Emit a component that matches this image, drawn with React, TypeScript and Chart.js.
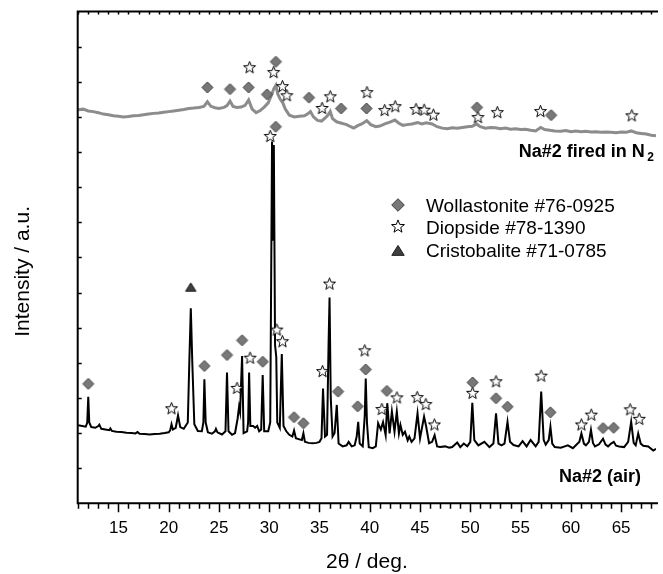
import React, { useEffect, useRef } from 'react';
import { Chart, registerables } from 'chart.js';

Chart.register(...registerables);

const FONT = '"Liberation Sans", Arial, Helvetica, sans-serif';

// x axis (2θ / deg.)
const xMin = 10.95;
const xMax = 68.47;
const xTickValues = [15, 20, 25, 30, 35, 40, 45, 50, 55, 60, 65];
// y axis (arbitrary units, offset traces)
const yMin = 0;
const yMax = 14;

// Na#2 (air) pattern
const airX = [
  11.0, 11.4, 11.75, 11.9, 12.0, 12.1, 12.3, 12.7, 13.0, 13.1, 13.3, 13.7, 14.1, 14.2, 14.35, 14.8, 15.3, 15.8,
  16.3, 16.7, 16.9, 17.1, 17.6, 18.1, 18.6, 19.1, 19.6, 20.0, 20.15, 20.28, 20.42, 20.7, 20.93, 21.15, 21.5, 21.9,
  22.05, 22.2, 22.35, 22.55, 22.9, 23.3, 23.45, 23.55, 23.68, 23.9, 24.3, 24.6, 24.7, 24.85, 25.3, 25.65, 25.8,
  25.95, 26.3, 26.6, 26.85, 27.0, 27.1, 27.3, 27.45, 27.8, 27.9, 28.0, 28.12, 28.4, 28.6, 28.8, 29.0, 29.2, 29.35,
  29.5, 29.9, 30.1, 30.28, 30.38, 30.46, 30.58, 30.7, 30.8, 31.05, 31.25, 31.42, 31.7, 32.0, 32.3, 32.47, 32.65,
  33.0, 33.25, 33.4, 33.55, 33.9, 34.3, 34.7, 35.0, 35.2, 35.35, 35.55, 35.75, 35.9, 36.0, 36.12, 36.3, 36.5,
  36.72, 36.9, 37.3, 37.7, 37.9, 38.2, 38.5, 38.7, 38.85, 39.0, 39.3, 39.5, 39.6, 39.72, 39.9, 40.3, 40.6, 40.83,
  41.1, 41.32, 41.58, 41.74, 41.97, 42.2, 42.46, 42.69, 42.9, 43.05, 43.28, 43.5, 43.77, 43.93, 44.16, 44.45,
  44.75, 45.0, 45.4, 45.6, 45.9, 46.2, 46.45, 46.7, 47.0, 47.5, 47.9, 48.2, 48.7, 49.0, 49.35, 49.7, 50.0, 50.2,
  50.4, 50.8, 51.4, 51.9, 52.3, 52.56, 52.8, 53.1, 53.4, 53.7, 53.95, 54.3, 54.8, 55.2, 55.6, 56.0, 56.5, 56.8,
  57.05, 57.3, 57.5, 57.8, 57.97, 58.15, 58.4, 59.0, 59.4, 59.7, 60.2, 60.6, 60.85, 61.05, 61.3, 61.5, 61.8, 62.0,
  62.2, 62.4, 62.8, 63.2, 63.45, 63.7, 64.0, 64.27, 64.5, 64.8, 65.3, 65.7, 66.0, 66.25, 66.45, 66.7, 66.95, 67.2,
  67.7, 68.2, 68.47,
];
const airY = [
  2.22, 2.2, 2.18, 2.3, 3.03, 2.3, 2.17, 2.15, 2.2, 2.24, 2.12, 2.1, 2.08, 2.13, 2.06, 2.04, 2.03, 2.01,
  2.0, 1.99, 2.03, 1.98, 1.97, 1.96, 1.97, 1.98, 2.0, 2.02, 2.08, 2.25, 2.1, 2.15, 2.5, 2.17, 2.12, 2.3,
  4.0, 5.55, 4.0, 2.25, 2.06, 2.05, 2.3, 3.53, 2.3, 2.02, 1.98, 2.05, 2.12, 2.02, 1.96, 2.05, 3.72,
  2.05, 1.95, 2.0, 2.4, 2.75, 2.6, 4.19, 2.0, 2.05, 2.3, 3.72, 2.2, 2.2, 2.15, 2.2, 2.05, 2.1, 3.65,
  2.05, 2.05, 2.3, 10.3, 7.5, 10.2, 4.5, 4.17, 2.3, 2.15, 4.25, 2.2, 2.05, 1.95, 1.9, 2.07, 1.85,
  1.82, 1.8, 1.99, 1.75, 1.72, 1.71, 1.72, 1.75, 1.85, 3.27, 1.9, 1.95, 4.5, 5.86, 3.0, 1.9, 2.0,
  2.8, 1.7, 1.62, 1.65, 1.75, 1.62, 1.65, 1.9, 2.32, 1.7, 1.62, 2.5, 3.55, 2.3, 1.6, 1.57, 1.62, 2.28,
  2.1, 2.31, 1.94, 2.85, 1.99, 2.61, 2.04, 2.61, 1.99, 2.23, 1.95, 2.04, 1.79, 1.9, 1.75, 1.85,
  2.56, 1.85, 2.47, 2.2, 1.71, 1.75, 1.94, 1.62, 1.6, 1.62, 1.58, 1.6, 1.73, 1.6, 1.7, 1.62, 1.75, 2.86,
  1.8, 1.65, 1.75, 1.6, 1.7, 2.56, 1.7, 1.65, 1.7, 2.32, 1.75, 1.66, 1.62, 1.77, 1.62, 1.8, 1.62, 1.75,
  3.18, 1.8, 1.67, 1.8, 2.18, 1.7, 1.6, 1.58, 1.62, 1.65, 1.57, 1.68, 1.75, 1.99, 1.7, 1.65, 1.75, 2.09,
  1.72, 1.62, 1.68, 1.84, 1.67, 1.62, 1.7, 1.75, 1.64, 1.62, 1.6, 1.75, 2.32, 1.72, 1.65, 1.99, 1.7, 1.64,
  1.62, 1.5, 1.55,
];

// Na#2 fired in N2 pattern
const n2X = [
  11.0, 11.5, 12.0, 12.5, 13.0, 13.5, 14.0, 14.5, 15.0, 15.5, 16.0, 16.5, 17.0, 17.5, 18.0, 18.5, 19.0, 19.5,
  20.0, 20.5, 21.0, 21.5, 22.0, 22.5, 23.0, 23.5, 23.85, 24.2, 24.6, 25.0, 25.5, 25.8, 26.1, 26.4, 26.8, 27.2,
  27.6, 27.95, 28.3, 28.7, 29.1, 29.5, 29.9, 30.2, 30.45, 30.66, 30.85, 31.1, 31.35, 31.6, 32.0, 32.5, 33.0,
  33.5, 33.8, 34.1, 34.4, 34.8, 35.2, 35.6, 35.85, 36.07, 36.3, 36.7, 37.2, 37.7, 38.1, 38.4, 38.8, 39.2, 39.7,
  40.1, 40.6, 41.0, 41.5, 42.0, 42.5, 42.9, 43.3, 43.7, 44.2, 44.75, 45.2, 45.6, 46.2, 46.7, 47.2, 47.7, 48.2,
  48.7, 49.2, 49.7, 50.2, 50.6, 51.0, 51.5, 52.0, 52.5, 53.0, 53.5, 54.0, 54.5, 55.0, 55.5, 56.0, 56.5, 57.0,
  57.4, 57.9, 58.4, 59.0, 59.5, 60.0, 60.5, 61.0, 61.5, 62.0, 62.5, 63.0, 63.5, 64.0, 64.5, 65.0, 65.5, 66.0,
  66.5, 67.0, 67.5, 68.0, 68.47,
];
const n2Y = [
  11.2, 11.22, 11.17, 11.15, 11.12, 11.08, 11.06, 11.03, 11.02, 11.0, 11.01, 11.03, 11.04, 11.06, 11.08, 11.1,
  11.11, 11.13, 11.15, 11.17, 11.19, 11.21, 11.24, 11.25, 11.27, 11.3, 11.43, 11.3, 11.26, 11.24, 11.27, 11.32,
  11.45, 11.3, 11.27, 11.28, 11.33, 11.48, 11.22, 11.12, 11.18, 11.28, 11.4, 11.6, 11.8, 11.9, 11.65, 11.5,
  11.4, 11.22, 11.05, 11.0, 11.02, 11.03, 11.08, 11.15, 11.0, 10.9, 10.88, 10.98, 11.05, 11.15, 10.95, 10.86,
  10.82, 10.78, 10.72, 10.68, 10.75, 10.8, 10.89, 10.78, 10.72, 10.74, 10.8, 10.85, 10.91, 10.82, 10.76,
  10.78, 10.8, 10.84, 10.8, 10.83, 10.8, 10.72, 10.68, 10.66, 10.69, 10.68, 10.7, 10.72, 10.73, 10.8, 10.72,
  10.68, 10.7, 10.69, 10.66, 10.68, 10.65, 10.66, 10.64, 10.65, 10.62, 10.6, 10.7, 10.64, 10.62, 10.6, 10.59,
  10.61, 10.58, 10.6, 10.58, 10.59, 10.57, 10.58, 10.56, 10.57, 10.56, 10.55, 10.57, 10.56, 10.6, 10.55,
  10.53, 10.51, 10.48, 10.46,
];

// Phase markers on the air pattern
const airWollX = [12.0, 23.55, 25.8, 27.3, 29.35, 30.65, 32.47, 33.4, 36.85, 38.8, 39.6, 41.7, 50.23, 52.56, 53.7, 57.97, 63.2, 64.26];
const airWollY = [3.4, 3.91, 4.22, 4.64, 4.03, 10.72, 2.45, 2.28, 3.18, 2.76, 3.81, 3.2, 3.44, 2.99, 2.75, 2.59, 2.14, 2.15];
const airDiopX = [20.28, 26.8, 28.1, 30.1, 30.76, 31.32, 35.3, 36.0, 39.5, 41.2, 42.7, 44.72, 45.58, 46.43, 50.23, 52.56, 57.05, 61.05, 62.03, 65.9, 66.8];
const airDiopY = [2.69, 3.27, 4.13, 10.44, 4.93, 4.6, 3.75, 6.24, 4.34, 2.67, 3.0, 3.01, 2.81, 2.23, 3.13, 3.46, 3.62, 2.23, 2.51, 2.66, 2.39];
const airCristX = [22.2];
const airCristY = [6.15];

// Phase markers on the N2 pattern
const n2WollX = [23.85, 26.1, 27.95, 29.78, 30.66, 33.95, 37.15, 39.68, 50.66, 58.04];
const n2WollY = [11.84, 11.79, 11.84, 11.64, 12.57, 11.55, 11.24, 11.24, 11.27, 11.05];
const n2DiopX = [28.05, 30.44, 31.32, 31.75, 35.26, 36.07, 39.72, 41.48, 42.53, 44.6, 45.41, 46.33, 50.76, 52.69, 56.98, 66.06];
const n2DiopY = [12.4, 12.26, 11.86, 11.6, 11.24, 11.57, 11.69, 11.18, 11.29, 11.21, 11.19, 11.05, 10.98, 11.12, 11.15, 11.03];

const phaseLabels = ['Wollastonite #76-0925', 'Diopside #78-1390', 'Cristobalite #71-0785'];
const sampleLabels = ['Na#2 fired in N', 'Na#2 (air)'];

const zip = (xs: number[], ys: number[]) => xs.map((x, i) => ({ x, y: ys[i] }));

type Kind = 'diamond' | 'star' | 'triangle';

function drawMarkerPath(g: CanvasRenderingContext2D, kind: Kind, cx: number, cy: number, size: number) {
  g.beginPath();
  if (kind === 'diamond') {
    g.moveTo(cx, cy - size);
    g.lineTo(cx + size, cy);
    g.lineTo(cx, cy + size);
    g.lineTo(cx - size, cy);
    g.closePath();
    g.fillStyle = '#787878';
    g.strokeStyle = '#3c3c3c';
  } else if (kind === 'star') {
    const inner = size * 0.42;
    for (let i = 0; i < 10; i++) {
      const r = i % 2 === 0 ? size : inner;
      const a = -Math.PI / 2 + (i * Math.PI) / 5;
      const px = cx + r * Math.cos(a);
      const py = cy + r * Math.sin(a);
      if (i === 0) g.moveTo(px, py);
      else g.lineTo(px, py);
    }
    g.closePath();
    g.fillStyle = '#ffffff';
    g.strokeStyle = '#000000';
  } else {
    g.moveTo(cx, cy - size * 0.85);
    g.lineTo(cx + size, cy + size * 0.75);
    g.lineTo(cx - size, cy + size * 0.75);
    g.closePath();
    g.fillStyle = '#3f3f3f';
    g.strokeStyle = '#1a1a1a';
  }
  g.lineWidth = 1;
  g.fill();
  g.stroke();
}

function makeMarker(kind: Kind, size: number): HTMLCanvasElement {
  const s = Math.ceil(size * 2 + 4);
  const c = document.createElement('canvas');
  c.width = s;
  c.height = s;
  const g = c.getContext('2d')!;
  drawMarkerPath(g, kind, s / 2, s / 2, size);
  return c;
}

const decorPlugin = {
  id: 'decor',
  afterDatasetsDraw(chart: any) {
    const { ctx, chartArea: a, scales } = chart;
    const xs = scales.x;
    const ys = scales.y;
    ctx.save();
    ctx.strokeStyle = '#000';
    ctx.lineWidth = 2;
    ctx.beginPath();
    ctx.moveTo(a.left - 1, a.top);
    ctx.lineTo(a.right + 2, a.top);
    ctx.moveTo(a.left, a.top - 1);
    ctx.lineTo(a.left, a.bottom + 1);
    ctx.moveTo(a.left - 1, a.bottom);
    ctx.lineTo(a.right + 2, a.bottom);
    ctx.stroke();

    ctx.lineWidth = 1.5;
    for (let d = Math.ceil(xs.min); d <= xs.max; d++) {
      const px = Math.round(xs.getPixelForValue(d)) + 0.5;
      const major = d % 5 === 0;
      ctx.beginPath();
      ctx.moveTo(px, a.bottom);
      ctx.lineTo(px, a.bottom + (major ? 9 : 5.5));
      ctx.moveTo(px, a.top);
      ctx.lineTo(px, a.top + 3);
      ctx.stroke();
    }
    for (let v = yMin + 1; v < yMax; v++) {
      const py = Math.round(ys.getPixelForValue(v)) + 0.5;
      ctx.beginPath();
      ctx.moveTo(a.left, py);
      ctx.lineTo(a.left + 4, py);
      ctx.stroke();
    }
    ctx.restore();
  },
  afterDraw(chart: any) {
    const { ctx, chartArea: a } = chart;
    ctx.save();
    ctx.fillStyle = '#000';
    ctx.textBaseline = 'alphabetic';

    // y-axis title
    ctx.save();
    ctx.translate(a.left - 48.4, (a.top + a.bottom) / 2 + 14);
    ctx.rotate(-Math.PI / 2);
    ctx.textAlign = 'center';
    ctx.font = `21px ${FONT}`;
    ctx.fillText('Intensity / a.u.', 0, 0);
    ctx.restore();

    // sample labels
    ctx.font = `bold 18px ${FONT}`;
    ctx.textAlign = 'right';
    ctx.fillText(sampleLabels[0], a.right - 11.3, a.top + 145.2);
    ctx.font = `bold 12px ${FONT}`;
    ctx.textAlign = 'left';
    ctx.fillText('2', a.right - 8.8, a.top + 149.7);
    ctx.font = `bold 18px ${FONT}`;
    ctx.textAlign = 'right';
    ctx.fillText(sampleLabels[1], a.right - 15, a.top + 470.5);

    // legend
    const kinds: Kind[] = ['diamond', 'star', 'triangle'];
    const sizes = [6.3, 6.8, 6.2];
    const markerCY = [205, 226.7, 250.7];
    const baseY = [211.7, 234, 257.3];
    ctx.font = `19px ${FONT}`;
    ctx.textAlign = 'left';
    for (let i = 0; i < 3; i++) {
      drawMarkerPath(ctx, kinds[i], a.left + 320.3, markerCY[i], sizes[i]);
      ctx.fillStyle = '#000';
      ctx.fillText(phaseLabels[i], a.left + 348.3, baseY[i]);
    }
    ctx.restore();
  },
};

export default function App() {
  const ref = useRef<HTMLCanvasElement | null>(null);

  useEffect(() => {
    const canvas = ref.current;
    if (!canvas) return;
    const diamond = makeMarker('diamond', 5.5);
    const star = makeMarker('star', 6.3);
    const triangle = makeMarker('triangle', 5.2);

    const markerSet = (label: string, xs: number[], ys: number[], style: HTMLCanvasElement) => ({
      label,
      type: 'scatter' as const,
      data: zip(xs, ys),
      pointStyle: style,
      pointRadius: 6,
      showLine: false,
      order: 0,
    });

    const chart = new Chart(canvas, {
      type: 'scatter',
      data: {
        datasets: [
          markerSet('N2 Wollastonite', n2WollX, n2WollY, diamond),
          markerSet('N2 Diopside', n2DiopX, n2DiopY, star),
          markerSet('Air Wollastonite', airWollX, airWollY, diamond),
          markerSet('Air Diopside', airDiopX, airDiopY, star),
          markerSet('Air Cristobalite', airCristX, airCristY, triangle),
          {
            label: 'Na#2 (air)',
            data: zip(airX, airY),
            showLine: true,
            borderColor: '#000000',
            borderWidth: 2,
            pointRadius: 0,
            tension: 0,
            order: 1,
          },
          {
            label: 'Na#2 fired in N2',
            data: zip(n2X, n2Y),
            showLine: true,
            borderColor: '#8c8c8c',
            borderWidth: 3,
            pointRadius: 0,
            tension: 0,
            order: 2,
          },
        ],
      },
      options: {
        animation: false,
        responsive: false,
        maintainAspectRatio: false,
        layout: { padding: { top: 11.5, right: 0, bottom: 0, left: 0 } },
        plugins: { legend: { display: false }, tooltip: { enabled: false } },
        scales: {
          x: {
            type: 'linear',
            min: xMin,
            max: xMax,
            grid: { display: false, drawTicks: false },
            border: { display: false },
            afterBuildTicks: (scale: any) => {
              scale.ticks = xTickValues.map((v) => ({ value: v }));
            },
            afterFit: (scale: any) => {
              scale.height = 70.7;
            },
            ticks: {
              color: '#000',
              padding: 15,
              maxRotation: 0,
              autoSkip: false,
              font: { family: FONT, size: 17 },
            },
            title: {
              display: true,
              text: '2\u03b8 / deg.',
              color: '#000',
              padding: 0,
              font: { family: FONT, size: 21, lineHeight: 1.1 },
            },
          },
          y: {
            type: 'linear',
            min: yMin,
            max: yMax,
            grid: { display: false, drawTicks: false },
            border: { display: false },
            ticks: { display: false },
            afterFit: (scale: any) => {
              scale.width = 77.7;
            },
          },
        },
      },
      plugins: [decorPlugin],
    });
    return () => chart.destroy();
  }, []);

  return (
    <div style={{ position: 'absolute', left: 0, top: 0, width: 663, height: 574, background: '#fff' }}>
      <canvas ref={ref} width={663} height={574} style={{ display: 'block' }} />
    </div>
  );
}
